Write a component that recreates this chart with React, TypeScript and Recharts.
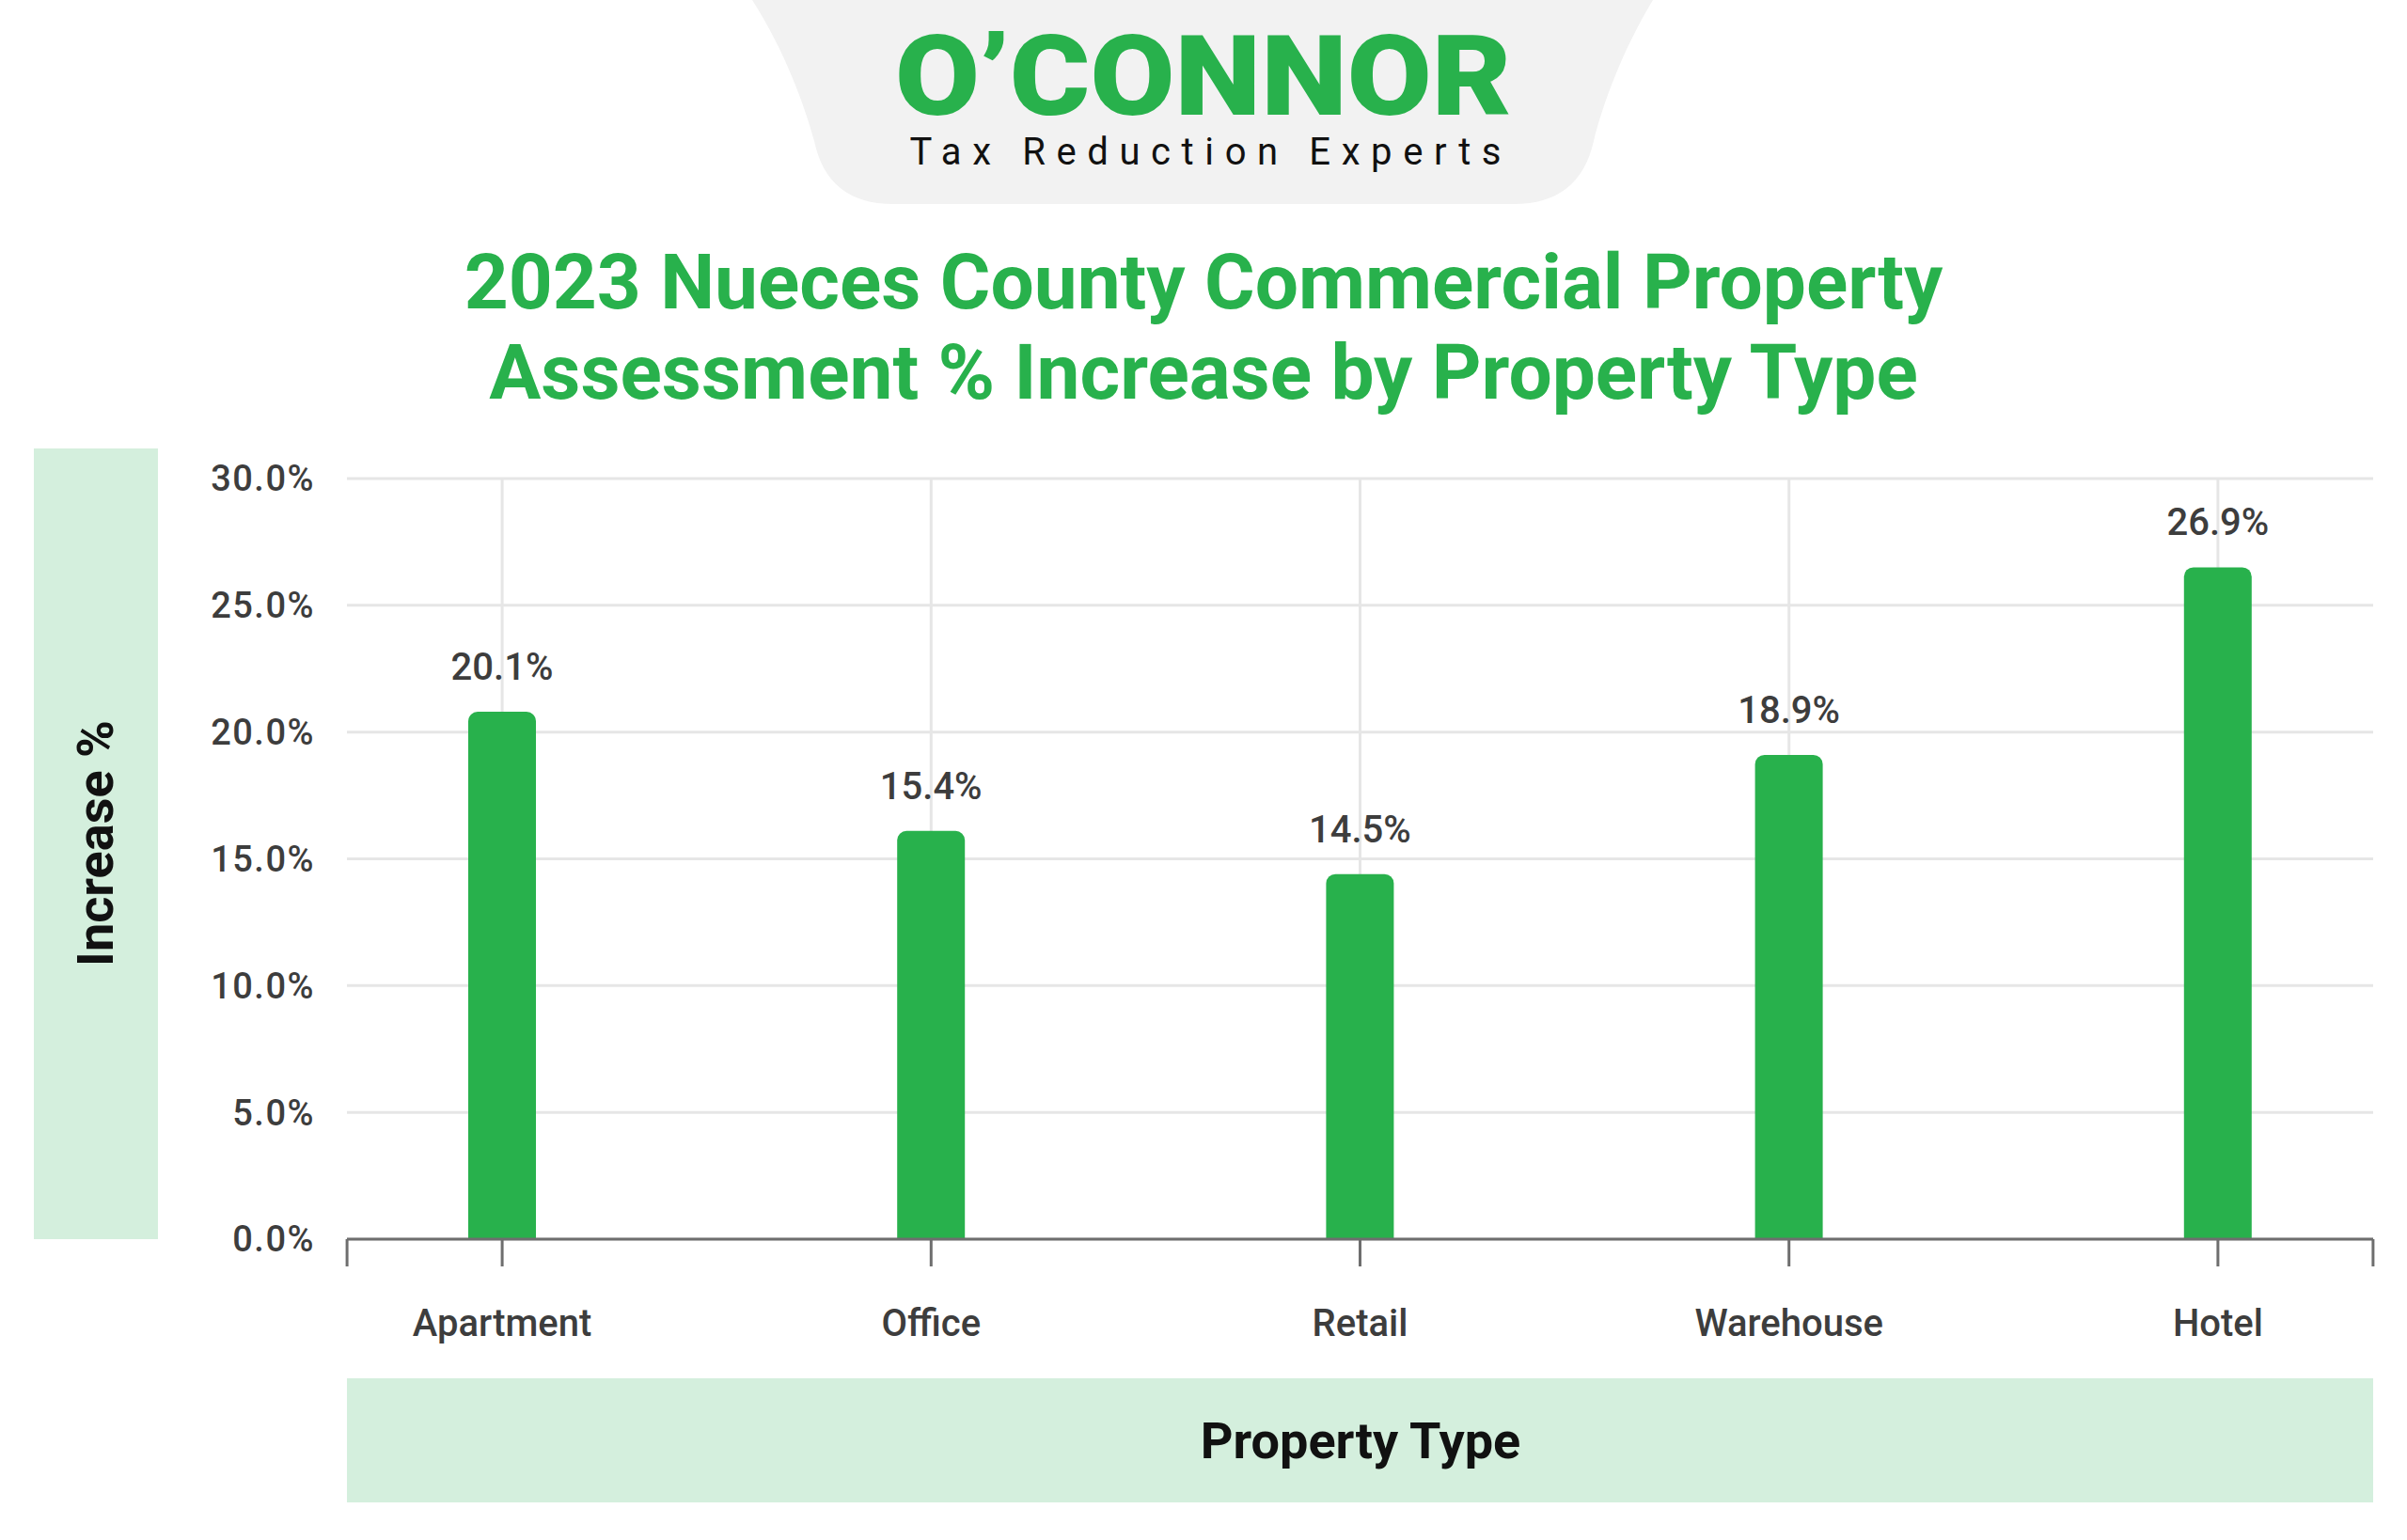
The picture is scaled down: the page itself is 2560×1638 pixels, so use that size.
import React from "react";
import { BarChart, Bar, XAxis, YAxis, CartesianGrid, LabelList } from "recharts";

const categories = ["Apartment", "Office", "Retail", "Warehouse", "Hotel"];
// bar heights as drawn in the picture
const barValues = [20.8, 16.1, 14.4, 19.1, 26.5];
// labels as printed above the bars
const valueLabels = ["20.1%", "15.4%", "14.5%", "18.9%", "26.9%"];
const yTicks = [0, 5, 10, 15, 20, 25, 30];

const data = categories.map((name, i) => ({ name, value: barValues[i], label: valueLabels[i] }));

const GREEN = "#28b14c";
const BOX = "#d4efdd";
const AXIS = "#6e6e6e";
const TEXT = "#3d3d3d";
const FONT = "Roboto, 'Noto Sans', sans-serif";
const END_TICK = 165;
const X_PAD = -63;
const MARGIN = { top: 509, right: 36, bottom: 220, left: 119 };
const Y_AXIS_W = 250;

const CategoryTick = (props: any) => {
  const { x, y, payload, index } = props;
  const last = index === categories.length - 1;
  return (
    <g>
      <line x1={x} y1={y} x2={x} y2={y + 29} stroke={AXIS} strokeWidth={3} />
      {index === 0 && <line x1={x - END_TICK} y1={y} x2={x - END_TICK} y2={y + 29} stroke={AXIS} strokeWidth={3} />}
      {last && <line x1={x + END_TICK} y1={y} x2={x + END_TICK} y2={y + 29} stroke={AXIS} strokeWidth={3} />}
      <text x={x} y={y + 103} textAnchor="middle" fill={TEXT} fontSize={40} fontWeight={500} fontFamily={FONT}>
        {payload.value}
      </text>
    </g>
  );
};

const ValueLabel = (p: any) => (
  <text
    x={p.x + p.width / 2}
    y={p.y - 34}
    textAnchor="middle"
    fill={TEXT}
    fontSize={40}
    fontWeight={500}
    fontFamily={FONT}
  >
    {p.value}
  </text>
);

// vertical grid lines only at the band centres (none on the plot edges)
const categoryLines = (props: any) => {
  const off = props && props.offset;
  const left = off && off.left != null ? off.left : MARGIN.left + Y_AXIS_W;
  const width = off && off.width != null ? off.width : 2560 - MARGIN.right - left;
  const band = (width - 2 * X_PAD) / categories.length;
  return categories.map((_, i) => left + X_PAD + band * (i + 0.5));
};

export default function App() {
  return (
    <div style={{ position: "absolute", left: 0, top: 0, width: 2560, height: 1638, background: "#fff", fontFamily: FONT }}>
      <svg width={2560} height={1638} style={{ position: "absolute", left: 0, top: 0 }}>
        <path
          d="M800,0 L1758,0 C1725,55 1705,110 1695,150 Q1680,217 1610,217 L950,217 Q880,217 866,150 C855,110 835,55 800,0 Z"
          fill="#f2f2f2"
        />
        <text x={1280} y={122} textAnchor="middle" fill={GREEN} fontSize={118} fontWeight={900} fontFamily={FONT} textLength={656} lengthAdjust="spacingAndGlyphs">
          O’CONNOR
        </text>
        <text x={1282} y={175} textAnchor="middle" fill="#111" fontSize={40} fontFamily={FONT} textLength={629} lengthAdjust="spacing">
          Tax Reduction Experts
        </text>
        <text x={1280} y={328} textAnchor="middle" fill={GREEN} fontSize={82} fontWeight={700} fontFamily={FONT}>
          2023 Nueces County Commercial Property
        </text>
        <text x={1280} y={424} textAnchor="middle" fill={GREEN} fontSize={82} fontWeight={700} fontFamily={FONT}>
          Assessment % Increase by Property Type
        </text>
        <rect x={36} y={477} width={132} height={841} fill={BOX} />
        <text
          x={120}
          y={897}
          transform="rotate(-90 120 897)"
          textAnchor="middle"
          fill="#111"
          fontSize={54}
          fontWeight={700}
          fontFamily={FONT}
        >
          Increase %
        </text>
        <rect x={369} y={1466} width={2155} height={132} fill={BOX} />
        <text x={1447} y={1551} textAnchor="middle" fill="#111" fontSize={54} fontWeight={700} fontFamily={FONT}>
          Property Type
        </text>
      </svg>
      <div style={{ position: "absolute", left: 0, top: 0 }}>
        <BarChart width={2560} height={1638} data={data} margin={MARGIN}>
          <CartesianGrid stroke="#e6e6e6" strokeWidth={3} verticalCoordinatesGenerator={categoryLines} />
          <XAxis
            dataKey="name"
            interval={0}
            height={100}
            padding={{ left: X_PAD, right: X_PAD }}
            tickLine={false}
            tickSize={0}
            tickMargin={0}
            axisLine={{ stroke: AXIS, strokeWidth: 3 }}
            tick={<CategoryTick />}
          />
          <YAxis
            width={Y_AXIS_W}
            domain={[0, 30]}
            ticks={yTicks}
            tickFormatter={(v: number) => v.toFixed(1) + "%"}
            tickLine={false}
            axisLine={false}
            tickSize={0}
            tickMargin={34}
            tick={{ fill: TEXT, fontSize: 38, fontWeight: 500, fontFamily: FONT, letterSpacing: 1.5 }}
          />
          <Bar dataKey="value" fill={GREEN} barSize={72} radius={[10, 10, 0, 0]} isAnimationActive={false}>
            <LabelList dataKey="label" content={<ValueLabel />} />
          </Bar>
        </BarChart>
      </div>
    </div>
  );
}
